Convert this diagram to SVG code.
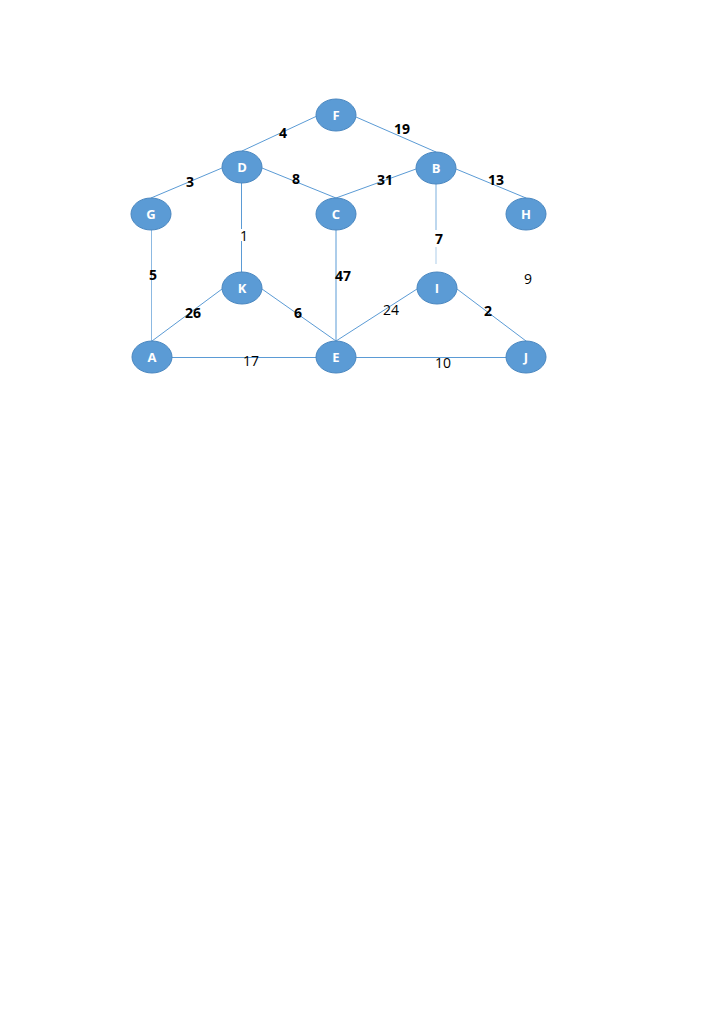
<svg xmlns="http://www.w3.org/2000/svg" width="724" height="1024" viewBox="0 0 724 1024">
<style>
.n ellipse{fill:#5b9bd5;stroke:#4a87c0;stroke-width:1}
.n text{fill:#fff;font-family:"Open Sans","Liberation Sans",sans-serif;font-size:13px;font-weight:bold;text-anchor:middle}
.e line{stroke:#5b9bd5;stroke-width:1}
.l{fill:#000;font-family:"Open Sans","Liberation Sans",sans-serif;font-size:14px;text-anchor:middle}
.b{font-weight:bold}
</style>
<rect width="724" height="1024" fill="#fff"/>
<g id="connectors" class="e">
<line x1="317" y1="116" x2="242" y2="151"/>
<line x1="356" y1="117" x2="436" y2="152"/>
<line x1="222" y1="168" x2="151" y2="198"/>
<line x1="262" y1="168" x2="336" y2="198"/>
<line x1="416" y1="169" x2="336" y2="198"/>
<line x1="456" y1="169" x2="526" y2="198"/>
<line x1="241.5" y1="183" x2="241.5" y2="229"/>
<line x1="241.5" y1="241" x2="241.5" y2="272"/>
<line x1="436" y1="184" x2="436" y2="230" stroke-opacity="0.8"/>
<line x1="436" y1="247" x2="436" y2="264" stroke-opacity="0.5"/>
<line x1="151.5" y1="230" x2="151.5" y2="341" stroke-opacity="0.7"/>
<line x1="336" y1="230" x2="336" y2="341"/>
<line x1="222" y1="289" x2="152" y2="341"/>
<line x1="262" y1="289" x2="336" y2="341"/>
<line x1="417" y1="289" x2="336" y2="341"/>
<line x1="457" y1="289" x2="526" y2="341"/>
<line x1="172" y1="357.5" x2="316" y2="357.5"/>
<line x1="356" y1="357.5" x2="506" y2="357.5"/>
</g>
<g id="F" class="n"><ellipse cx="336" cy="115" rx="20" ry="16"/><text x="336" y="120">F</text></g>
<g id="D" class="n"><ellipse cx="242" cy="167" rx="20" ry="16"/><text x="242" y="172">D</text></g>
<g id="B" class="n"><ellipse cx="436" cy="168" rx="20" ry="16"/><text x="436" y="173">B</text></g>
<g id="G" class="n"><ellipse cx="151" cy="214" rx="20" ry="16"/><text x="151" y="219">G</text></g>
<g id="C" class="n"><ellipse cx="336" cy="214" rx="20" ry="16"/><text x="336" y="219">C</text></g>
<g id="H" class="n"><ellipse cx="526" cy="214" rx="20" ry="16"/><text x="526" y="219">H</text></g>
<g id="K" class="n"><ellipse cx="242" cy="288" rx="20" ry="16"/><text x="242" y="293">K</text></g>
<g id="I" class="n"><ellipse cx="437" cy="288" rx="20" ry="16"/><text x="437" y="293">I</text></g>
<g id="A" class="n"><ellipse cx="152" cy="357" rx="20" ry="16"/><text x="152" y="362">A</text></g>
<g id="E" class="n"><ellipse cx="336" cy="357" rx="20" ry="16"/><text x="336" y="362">E</text></g>
<g id="J" class="n"><ellipse cx="526" cy="357" rx="20" ry="16"/><text x="526" y="362">J</text></g>
<g id="labels">
<text class="l b" x="283" y="138">4</text>
<text class="l b" x="402" y="134">19</text>
<text class="l b" x="190" y="187">3</text>
<text class="l b" x="296" y="184">8</text>
<text class="l b" x="385" y="185">31</text>
<text class="l b" x="496" y="185">13</text>
<text class="l" x="244" y="241">1</text>
<text class="l b" x="439" y="244">7</text>
<text class="l b" x="153" y="280">5</text>
<text class="l b" x="343" y="281">47</text>
<text class="l" x="528" y="284">9</text>
<text class="l b" x="193" y="318">26</text>
<text class="l b" x="298" y="318">6</text>
<text class="l" x="391" y="315">24</text>
<text class="l b" x="488" y="316">2</text>
<text class="l" x="251" y="366">17</text>
<text class="l" x="443" y="368">10</text>
</g>
</svg>
